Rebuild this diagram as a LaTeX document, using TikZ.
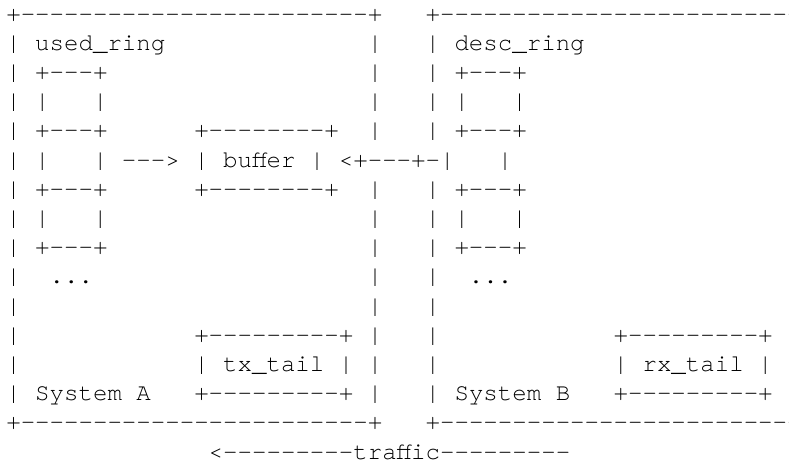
\documentclass[tikz,border=0pt]{standalone}
\usepackage{fontspec}
\setmonofont{TeX Gyre Cursor}
\newcommand\asgap[1]{\hspace*{#1\fontdimen2\font}}
\tikzset{
  asc/.style={anchor=base west, inner sep=0pt, outer sep=0pt,
    font=\ttfamily\fontsize{24.1pt}{29pt}\selectfont, text=black}
}
\begin{document}
\begin{tikzpicture}[x=1pt,y=1pt]
\clip (0,0) rectangle (789,-463);
\fill[white] (0,0) rectangle (789,-463);
\def\ox{6.3}\def\oy{21.1}\def\rh{29.2}\def\cw{14.46}
\node[asc] (r0)  at (\ox,{-\oy-0*\rh})  {+------------------------+\asgap{3}+--------------------------};
\node[asc] (r1)  at (\ox,{-\oy-1*\rh})  {|\asgap{1}used\_ring\asgap{14}|\asgap{3}|\asgap{1}desc\_ring};
\node[asc] (r2)  at (\ox,{-\oy-2*\rh})  {|\asgap{1}+---+\asgap{18}|\asgap{3}|\asgap{1}+---+};
\node[asc] (r3)  at (\ox,{-\oy-3*\rh})  {|\asgap{1}|\asgap{3}|\asgap{18}|\asgap{3}|\asgap{1}|\asgap{3}|};
\node[asc] (r4)  at (\ox,{-\oy-4*\rh})  {|\asgap{1}+---+\asgap{6}+--------+\asgap{2}|\asgap{3}|\asgap{1}+---+};
\node[asc] (r5)  at (\ox,{-\oy-5*\rh})  {|\asgap{1}|\asgap{3}|\asgap{1}--->\asgap{1}|\asgap{1}buffer\asgap{1}|\asgap{1}<+---+-|\asgap{3}|};
\node[asc] (r6)  at (\ox,{-\oy-6*\rh})  {|\asgap{1}+---+\asgap{6}+--------+\asgap{2}|\asgap{3}|\asgap{1}+---+};
\node[asc] (r7)  at (\ox,{-\oy-7*\rh})  {|\asgap{1}|\asgap{3}|\asgap{18}|\asgap{3}|\asgap{1}|\asgap{3}|};
\node[asc] (r8)  at (\ox,{-\oy-8*\rh})  {|\asgap{1}+---+\asgap{18}|\asgap{3}|\asgap{1}+---+};
\node[asc] (r9)  at (\ox,{-\oy-9*\rh})  {|\asgap{2}...\asgap{19}|\asgap{3}|\asgap{2}...};
\node[asc] (r10) at (\ox,{-\oy-10*\rh}) {|\asgap{24}|\asgap{3}|};
\node[asc] (r11) at (\ox,{-\oy-11*\rh}) {|\asgap{12}+---------+\asgap{1}|\asgap{3}|\asgap{12}+---------+};
\node[asc] (r12) at (\ox,{-\oy-12*\rh}) {|\asgap{12}|\asgap{1}tx\_tail\asgap{1}|\asgap{1}|\asgap{3}|\asgap{12}|\asgap{1}rx\_tail\asgap{1}|};
\node[asc] (r13) at (\ox,{-\oy-13*\rh}) {|\asgap{1}System\asgap{1}A\asgap{3}+---------+\asgap{1}|\asgap{3}|\asgap{1}System\asgap{1}B\asgap{3}+---------+};
\node[asc] (r14) at (\ox,{-\oy-14*\rh}) {+------------------------+\asgap{3}+--------------------------};
\node[asc] (r15) at ({\ox+14*\cw},{-\oy-15*\rh}) {<---------traffic---------};
\end{tikzpicture}
\end{document}
